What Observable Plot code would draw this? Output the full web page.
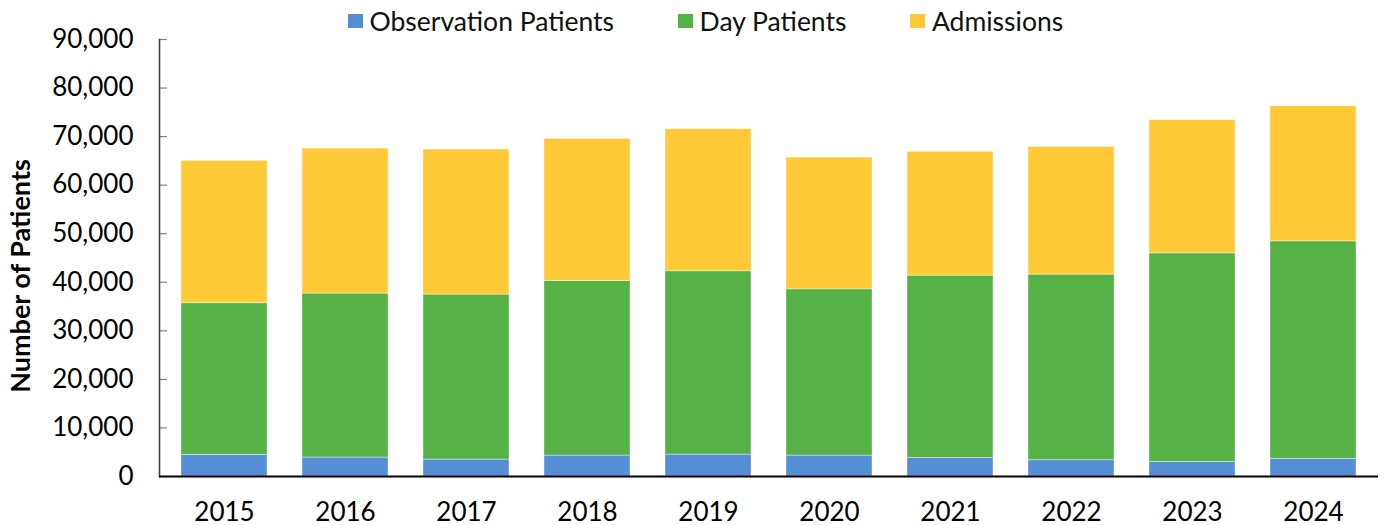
<!DOCTYPE html>
<html>
<head>
<meta charset="utf-8">
<script src="https://cdn.jsdelivr.net/npm/d3@7"></script>
<script src="https://cdn.jsdelivr.net/npm/@observablehq/plot@0.6"></script>
<style>
  html, body { margin: 0; padding: 0; background: #fff; }
  #wrap { position: relative; width: 1387px; height: 525px; font-family: Lato, "DejaVu Sans", sans-serif; }
  #legend { position: absolute; top: 0; left: 348px; height: 42px; display: flex; align-items: center; font-size: 26.5px; color: #111; white-space: nowrap; }
  .item { display: flex; align-items: center; margin-right: 64px; }
  .sw { width: 14.5px; height: 14.5px; margin-right: 7px; display: inline-block; }
</style>
</head>
<body>
<div id="wrap">
  <div id="chart"></div>
  <div id="legend"></div>
</div>
<script>
const years = ["2015","2016","2017","2018","2019","2020","2021","2022","2023","2024"];
const observationPatients = [4440, 3900, 3490, 4310, 4520, 4310, 3820, 3350, 3000, 3620];
const dayPatients = [31240, 33770, 33970, 35970, 37740, 34240, 37550, 38230, 42950, 44800];
const admissions = [29320, 29860, 29870, 29240, 29260, 27130, 25480, 26300, 27420, 27820];
const seriesNames = ["Observation Patients", "Day Patients", "Admissions"];
const seriesColors = ["#558ed5", "#56b246", "#ffc937"];
const yTicks = [0, 10000, 20000, 30000, 40000, 50000, 60000, 70000, 80000, 90000];
const yTitle = "Number of Patients";

const seriesValues = [observationPatients, dayPatients, admissions];
const data = [];
years.forEach((yr, i) => {
  seriesNames.forEach((s, j) => data.push({year: yr, series: s, value: seriesValues[j][i]}));
});

const chart = Plot.plot({
  width: 1387,
  height: 525,
  marginLeft: 159,
  marginRight: 9,
  marginTop: 39,
  marginBottom: 49,
  style: {fontFamily: "Lato, 'DejaVu Sans', sans-serif", fontSize: "26px", color: "#000", background: "#fff", overflow: "visible"},
  x: {type: "band", domain: years, paddingInner: 0.286, paddingOuter: 0.143, align: 0.5, label: null},
  y: {domain: [0, 90000], label: null},
  color: {domain: seriesNames, range: seriesColors},
  marks: [
    Plot.barY(data, {x: "year", y: "value", fill: "series", stroke: "#ffffff", strokeOpacity: 0.55, strokeWidth: 0.7}),
    Plot.axisY({ticks: yTicks, tickSize: 0, tickPadding: 26, tickFormat: d3.format(","), fontSize: 26, label: null}),
    Plot.axisY({ticks: yTicks, tickSize: 8, dx: 8, tickFormat: () => "", stroke: "#808080", strokeWidth: 1.2, label: null}),
    Plot.axisX({tickSize: 0, tickPadding: 26, fontSize: 26, label: null}),
    Plot.frame({anchor: "left", stroke: "#404040", strokeWidth: 1.6}),
    Plot.ruleY([0], {stroke: "#000", strokeWidth: 2}),
    Plot.text([yTitle], {frameAnchor: "left", rotate: -90, dx: -138, dy: 18, lineAnchor: "middle", textAnchor: "middle", fontWeight: "bold", fontSize: 27, fill: "#000"})
  ]
});
document.getElementById("chart").appendChild(chart);

const legend = document.getElementById("legend");
seriesNames.forEach((s, i) => {
  const item = document.createElement("div");
  item.className = "item";
  const sw = document.createElement("span");
  sw.className = "sw";
  sw.style.background = seriesColors[i];
  const label = document.createElement("span");
  label.textContent = s;
  item.appendChild(sw);
  item.appendChild(label);
  legend.appendChild(item);
});
</script>
</body>
</html>
